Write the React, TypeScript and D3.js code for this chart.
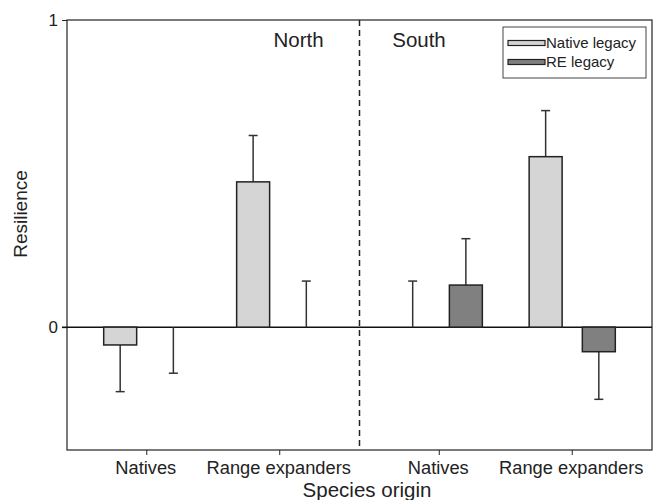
import { useEffect, useRef } from "react";
import * as d3 from "d3";

const regions = ["North", "South"];
const origins = ["Natives", "Range expanders"];
const series = ["Native legacy", "RE legacy"];

// values per bar, order: North Natives, North Range expanders, South Natives, South Range expanders
const nativeLegacy = [-0.058, 0.473, 0, 0.555];
const nativeLegacyErr = [-0.21, 0.624, 0.15, 0.705];
const reLegacy = [0, 0, 0.137, -0.08];
const reLegacyErr = [-0.15, 0.15, 0.288, -0.235];

const yTicks = [0, 1];
const colors = ["#d4d5d4", "#808080"];

function App() {
  const ref = useRef<SVGSVGElement>(null);

  useEffect(() => {
    const w = 660;
    const h = 500;
    const m = { top: 20, right: 8, bottom: 50, left: 67 };
    const svg = d3.select(ref.current);
    svg.selectAll("*").remove();
    svg.attr("width", w).attr("height", h).style("font-family", "'Liberation Sans', Arial, sans-serif");

    const x0 = d3.scaleBand().domain(regions).range([m.left, w - m.right]).padding(0);
    const x1 = d3.scalePoint().domain(origins).range([0, x0.bandwidth()]).padding(0.6);
    const step = x1.step();
    const xs = d3.scaleBand().domain(series).range([-step * 0.4, step * 0.4]).padding(0);
    const barW = xs.bandwidth() * 0.62;

    const y = d3.scaleLinear().domain([-0.4, 1]).range([h - m.bottom, m.top]);

    const g = svg.append("g");

    // frame
    g.append("rect")
      .attr("x", m.left)
      .attr("y", m.top)
      .attr("width", w - m.right - m.left)
      .attr("height", h - m.bottom - m.top)
      .attr("fill", "none")
      .attr("stroke", "#222")
      .attr("stroke-width", 1.2);

    // y axis
    const yAxis = d3.axisLeft(y).tickValues(yTicks).tickSize(5).tickFormat(d3.format("d"));
    const ya = g.append("g").attr("transform", `translate(${m.left},0)`).call(yAxis);
    ya.select(".domain").remove();
    ya.selectAll("text").style("font-size", "17px").attr("fill", "#222").attr("x", -9);
    ya.selectAll("line").attr("stroke", "#222");

    // x axis
    const cells = regions.flatMap((r) => origins.map((o) => ({ r, o, cx: (x0(r) as number) + (x1(o) as number) })));
    const xa = g.append("g");
    cells.forEach((c) => {
      xa.append("line")
        .attr("x1", c.cx).attr("x2", c.cx)
        .attr("y1", y(-0.4)).attr("y2", y(-0.4) + 5)
        .attr("stroke", "#222");
      xa.append("text")
        .attr("x", c.cx - 1)
        .attr("y", y(-0.4) + 24)
        .attr("text-anchor", "middle")
        .style("font-size", "18.3px")
        .attr("fill", "#222")
        .text(c.o);
    });

    // zero line
    g.append("line")
      .attr("x1", m.left - 5).attr("x2", w - m.right)
      .attr("y1", y(0)).attr("y2", y(0))
      .attr("stroke", "#111").attr("stroke-width", 1.5);

    // region divider
    const divX = x0("South") as number;
    g.append("line")
      .attr("x1", divX).attr("x2", divX)
      .attr("y1", m.top).attr("y2", y(-0.4))
      .attr("stroke", "#222").attr("stroke-width", 1.5)
      .attr("stroke-dasharray", "6,4");

    // region labels
    g.append("text").attr("x", 298.5).attr("y", 47).attr("text-anchor", "middle")
      .style("font-size", "20.5px").attr("fill", "#222").text("North");
    g.append("text").attr("x", 419).attr("y", 47).attr("text-anchor", "middle")
      .style("font-size", "20.5px").attr("fill", "#222").text("South");

    // bars + error bars
    const vals = [nativeLegacy, reLegacy];
    const errs = [nativeLegacyErr, reLegacyErr];
    series.forEach((s, si) => {
      cells.forEach((c, i) => {
        const cx = c.cx + (xs(s) as number) + xs.bandwidth() / 2;
        const v = vals[si][i];
        const e = errs[si][i];
        g.append("line")
          .attr("x1", cx).attr("x2", cx)
          .attr("y1", y(v)).attr("y2", y(e))
          .attr("stroke", "#333").attr("stroke-width", 1.5);
        g.append("line")
          .attr("x1", cx - 4.5).attr("x2", cx + 4.5)
          .attr("y1", y(e)).attr("y2", y(e))
          .attr("stroke", "#333").attr("stroke-width", 1.5);
        if (v !== 0) {
          g.append("rect")
            .attr("x", cx - barW / 2)
            .attr("y", Math.min(y(v), y(0)))
            .attr("width", barW)
            .attr("height", Math.abs(y(v) - y(0)))
            .attr("fill", colors[si])
            .attr("stroke", "#222")
            .attr("stroke-width", 1.5);
        }
      });
    });

    // axis titles
    g.append("text")
      .attr("transform", `translate(26.5,214) rotate(-90)`)
      .attr("text-anchor", "middle")
      .style("font-size", "19px").attr("fill", "#222")
      .text("Resilience");
    g.append("text")
      .attr("x", 367).attr("y", 496.5)
      .attr("text-anchor", "middle")
      .style("font-size", "20.5px").attr("fill", "#222")
      .text("Species origin");

    // legend
    const lg = g.append("g").attr("transform", "translate(503,27)");
    lg.append("rect").attr("width", 143).attr("height", 51)
      .attr("fill", "white").attr("stroke", "#444").attr("stroke-width", 1);
    series.forEach((s, i) => {
      lg.append("rect")
        .attr("x", 5).attr("y", 13.5 + i * 19)
        .attr("width", 37).attr("height", 5)
        .attr("fill", colors[i]).attr("stroke", "#222").attr("stroke-width", 1.2);
      lg.append("text")
        .attr("x", 43).attr("y", 20.5 + i * 19)
        .style("font-size", "15px").attr("fill", "#222")
        .text(s);
    });
  }, []);

  return <svg ref={ref} width={660} height={500} style={{ position: "absolute", left: 0, top: 0 }} />;
}

export default App;
